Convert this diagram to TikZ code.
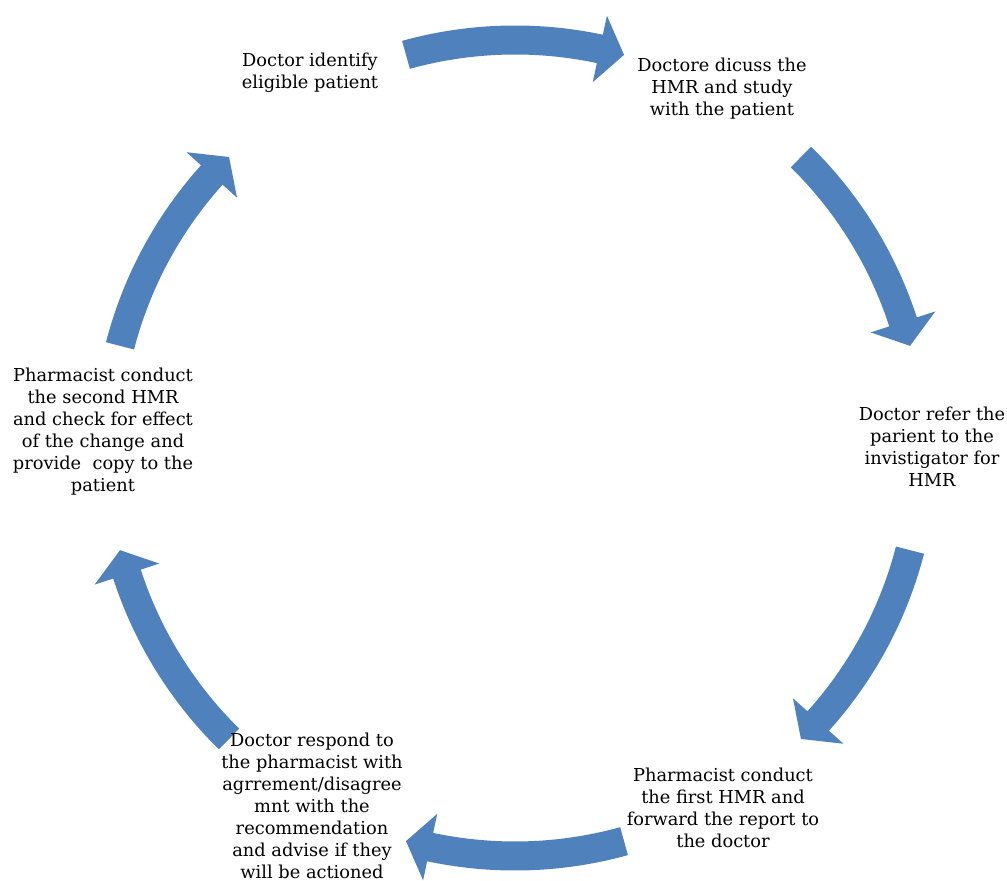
\documentclass[tikz,border=0pt]{standalone}
\usepackage{fontspec}
\setmainfont{DejaVu Serif}
\definecolor{cycblue}{HTML}{4F81BD}
\begin{document}
\begin{tikzpicture}[x=1pt,y=1pt,
  arrowfill/.style={fill=cycblue},
  lbl/.style={align=center,inner sep=0pt,text=black,font=\fontsize{17.8}{22}\selectfont}]
\useasboundingbox (0,0) rectangle (1007,881);
\begin{scope}[shift={(515,433)}]
\foreach \k in {0,...,5} {
  \pgfmathsetmacro\aS{165.5-60*\k}
  \pgfmathsetmacro\aT{134.5-60*\k}
  \pgfmathsetmacro\aB{\aT+3.5}
  \fill[arrowfill] (\aS:422.5pt) arc[start angle=\aS, end angle=\aB, radius=422.5pt]
    -- (\aB:442pt) -- (\aT:408pt) -- (\aB:374pt) -- (\aB:393.5pt)
    arc[start angle=\aB, end angle=\aS, radius=393.5pt] -- cycle;
}
\end{scope}
\node[lbl] (n1) at (310,881-73) {Doctor identify\\eligible patient};
\node[lbl] (n2) at (722,881-89) {Doctore dicuss the\\HMR and study\\with the patient};
\node[lbl] (n3) at (932,881-447) {Doctor refer the\\parient to the\\invistigator for\\HMR};
\node[lbl] (n4) at (723,881-808) {Pharmacist conduct\\the first HMR and\\forward the report to\\the doctor};
\node[lbl] (n5) at (312,881-806) {Doctor respond to\\the pharmacist with\\agrrement/disagree\\mnt with the\\recommendation\\and advise if they\\will be actioned};
\node[lbl] (n6) at (103,881-432) {Pharmacist conduct\\the second HMR\\and check for effect\\of the change and\\provide~ copy to the\\patient};
\end{tikzpicture}
\end{document}
